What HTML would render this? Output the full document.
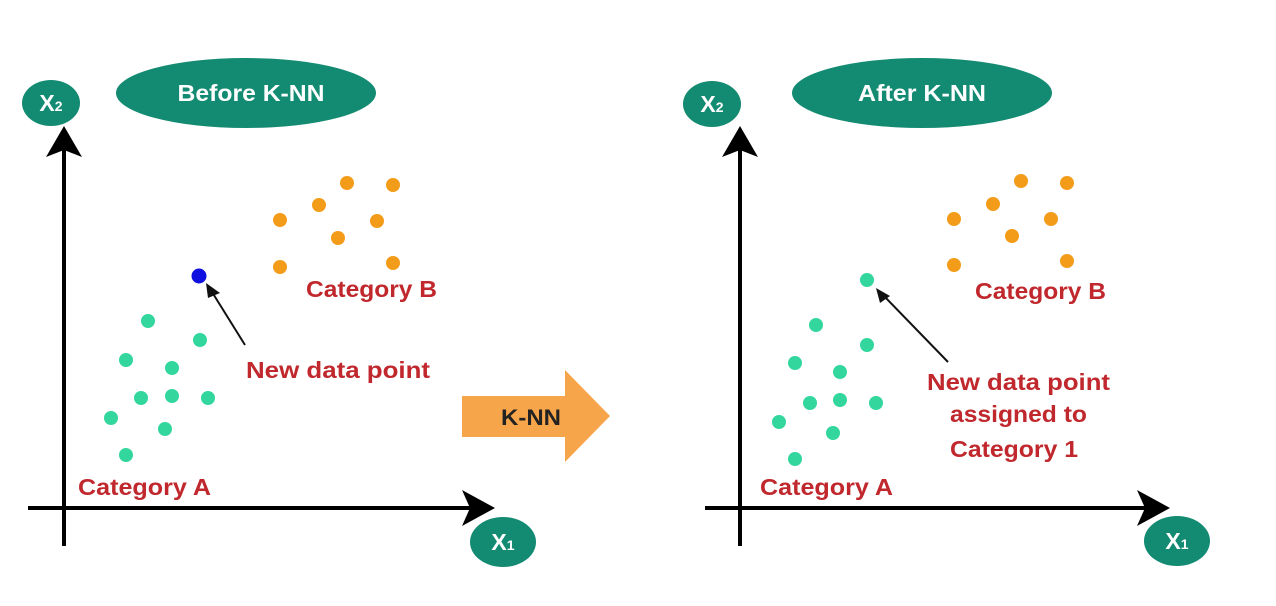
<!DOCTYPE html>
<html><head><style>body{margin:0;background:#fff}svg{display:block}</style></head><body>
<svg width="1276" height="606" viewBox="0 0 1276 606" xmlns="http://www.w3.org/2000/svg" font-family="Liberation Sans, sans-serif" font-weight="bold">
<rect width="1276" height="606" fill="#fff"/>
<g fill="#138a72">
<ellipse cx="51" cy="103" rx="29" ry="23"/>
<ellipse cx="246" cy="93" rx="130" ry="35"/>
<ellipse cx="503" cy="542" rx="33" ry="25"/>
<ellipse cx="712" cy="104" rx="29" ry="23"/>
<ellipse cx="922" cy="93" rx="130" ry="35"/>
<ellipse cx="1177" cy="541" rx="33" ry="25"/>
</g>
<g font-size="23" text-anchor="middle" fill="#fff">
<text x="51" y="111">X<tspan font-size="14">2</tspan></text>
<text x="251" y="101" textLength="147" lengthAdjust="spacingAndGlyphs">Before K-NN</text>
<text x="503" y="550">X<tspan font-size="14">1</tspan></text>
<text x="712" y="112">X<tspan font-size="14">2</tspan></text>
<text x="922" y="101" textLength="128" lengthAdjust="spacingAndGlyphs">After K-NN</text>
<text x="1177" y="549">X<tspan font-size="14">1</tspan></text>
</g>
<g stroke="#000" stroke-width="4">
<line x1="64" y1="150" x2="64" y2="546"/>
<line x1="28" y1="508" x2="475" y2="508"/>
<line x1="740" y1="150" x2="740" y2="546"/>
<line x1="705" y1="508" x2="1150" y2="508"/>
</g>
<g fill="#000">
<polygon points="64,126 82,157 64,150 46,157"/>
<polygon points="495,508 462,490 470,508 462,526"/>
<polygon points="740,126 758,157 740,150 722,157"/>
<polygon points="1170,508 1137,490 1145,508 1137,526"/>
</g>
<g fill="#f39c1a">
<circle cx="347" cy="183" r="7"/><circle cx="393" cy="185" r="7"/><circle cx="319" cy="205" r="7"/><circle cx="377" cy="221" r="7"/><circle cx="280" cy="220" r="7"/><circle cx="338" cy="238" r="7"/><circle cx="280" cy="267" r="7"/><circle cx="393" cy="263" r="7"/>
<circle cx="1021" cy="181" r="7"/><circle cx="1067" cy="183" r="7"/><circle cx="993" cy="204" r="7"/><circle cx="1051" cy="219" r="7"/><circle cx="954" cy="219" r="7"/><circle cx="1012" cy="236" r="7"/><circle cx="954" cy="265" r="7"/><circle cx="1067" cy="261" r="7"/>
</g>
<circle cx="199" cy="276" r="7.5" fill="#1010e0"/>
<g fill="#33d69d">
<circle cx="148" cy="321" r="7"/><circle cx="200" cy="340" r="7"/><circle cx="126" cy="360" r="7"/><circle cx="172" cy="368" r="7"/><circle cx="141" cy="398" r="7"/><circle cx="172" cy="396" r="7"/><circle cx="208" cy="398" r="7"/><circle cx="111" cy="418" r="7"/><circle cx="165" cy="429" r="7"/><circle cx="126" cy="455" r="7"/>
<circle cx="867" cy="280" r="7"/>
<circle cx="816" cy="325" r="7"/><circle cx="867" cy="345" r="7"/><circle cx="795" cy="363" r="7"/><circle cx="840" cy="372" r="7"/><circle cx="810" cy="403" r="7"/><circle cx="840" cy="400" r="7"/><circle cx="876" cy="403" r="7"/><circle cx="779" cy="422" r="7"/><circle cx="833" cy="433" r="7"/><circle cx="795" cy="459" r="7"/>
</g>
<g stroke="#111" stroke-width="2">
<line x1="245" y1="345" x2="212" y2="292"/>
<line x1="948" y1="362" x2="884" y2="296"/>
</g>
<polygon points="206,283 220,293 208,298" fill="#111"/>
<polygon points="876,288 890,296 880,303" fill="#111"/>
<polygon points="462,396 565,396 565,370 610,416 565,462 565,437 462,437" fill="#f7a54a"/>
<text x="531" y="425" font-size="22" fill="#222" text-anchor="middle" textLength="60" lengthAdjust="spacingAndGlyphs">K-NN</text>
<g fill="#c0282d" font-size="23" lengthAdjust="spacingAndGlyphs">
<text x="306" y="297" textLength="131" lengthAdjust="spacingAndGlyphs">Category B</text>
<text x="246" y="378" textLength="184" lengthAdjust="spacingAndGlyphs">New data point</text>
<text x="78" y="495" textLength="133" lengthAdjust="spacingAndGlyphs">Category A</text>
<text x="975" y="299" textLength="131" lengthAdjust="spacingAndGlyphs">Category B</text>
<text x="760" y="495" textLength="133" lengthAdjust="spacingAndGlyphs">Category A</text>
<text x="927" y="390" textLength="183" lengthAdjust="spacingAndGlyphs">New data point</text>
<text x="950" y="422" textLength="137" lengthAdjust="spacingAndGlyphs">assigned to</text>
<text x="950" y="457" textLength="128" lengthAdjust="spacingAndGlyphs">Category 1</text>
</g>
</svg>
</body></html>
